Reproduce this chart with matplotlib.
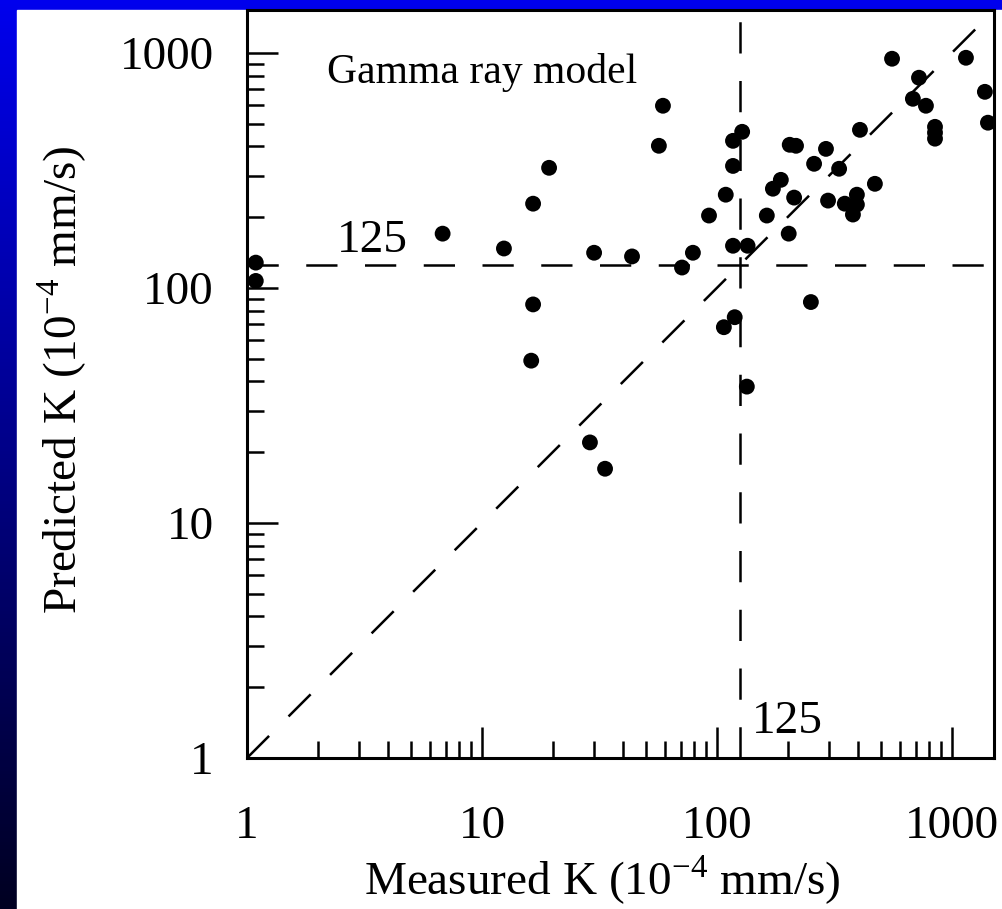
import numpy as np
import matplotlib
matplotlib.use("Agg")
import matplotlib.pyplot as plt
from matplotlib.patches import Rectangle
from matplotlib.ticker import FixedLocator, NullFormatter

plt.rcParams["font.family"] = ["Liberation Serif", "DejaVu Serif"]
plt.rcParams["mathtext.fontset"] = "custom"
plt.rcParams["mathtext.rm"] = "Liberation Serif"

# measured vs predicted K (10^-4 mm/s)
measured = [1.09, 1.09, 6.8, 12.4, 16.5, 16.5, 16.2, 19.3, 30.0, 43.5,
            28.8, 33.4, 58.9, 56.6, 71.0, 79.0, 92.5, 109, 117, 128,
            117, 117, 135, 119, 107, 134, 163, 173, 187, 202,
            204, 217, 213, 251, 259, 291, 297, 331, 350, 394,
            394, 379, 406, 470, 556, 1147, 724, 682, 775, 847,
            847, 847, 1381, 1423]
predicted = [128, 107, 170, 147, 228, 85, 49, 324, 141, 136,
             22, 17, 595, 402, 122, 141, 203, 249, 422, 461,
             330, 151, 151, 75, 68, 38, 203, 264, 288, 170,
             406, 402, 242, 87, 337, 390, 235, 321, 228, 249,
             226, 205, 470, 277, 943, 952, 783, 637, 595, 484,
             457, 431, 682, 504]

ref_level = 125
x_range = [1, 1510]
y_range = [1, 1520]
tick_vals = [1, 10, 100, 1000]
tick_text = ["1", "10", "100", "1000"]

W, H = 1003, 909
fig = plt.figure(figsize=(W / 100, H / 100), dpi=100)

# blue gradient frame on left and top
bg = fig.add_axes([0, 0, 1, 1], zorder=-10)
grad = np.linspace(0, 1, 256).reshape(-1, 1)
top_c = np.array([0.0, 0.0, 0.93])
bot_c = np.array([0.0, 0.0, 0.13])
img = top_c[None, None, :] * (1 - grad[:, :, None]) + bot_c[None, None, :] * grad[:, :, None]
bg.imshow(img, aspect="auto", extent=[0, 1, 0, 1], origin="upper")
bg.add_patch(Rectangle((17 / W, 0), 1, (H - 10) / H, color="white", transform=bg.transAxes))
bg.set_xlim(0, 1)
bg.set_ylim(0, 1)
bg.axis("off")

ax = fig.add_axes([247 / W, (H - 758) / H, (994 - 247) / W, (758 - 10) / H])
ax.set_xscale("log")
ax.set_yscale("log")
ax.set_xlim(*x_range)
ax.set_ylim(*y_range)

dash = (0, (12.5, 11))
ax.plot(x_range, x_range, color="black", lw=1.8, linestyle=dash, zorder=2)
ax.axhline(ref_level, color="black", lw=1.8, linestyle=dash, zorder=2)
ax.axvline(ref_level, color="black", lw=1.8, linestyle=dash, zorder=2)
ax.scatter(measured, predicted, s=130, color="black", edgecolors="none", zorder=3)

ax.text(2.19, 745, "Gamma ray model", fontsize=30, va="baseline", ha="left")
ax.text(2.42, 142, "125", fontsize=34, va="baseline", ha="left")
ax.text(141, 1.28, "125", fontsize=34, va="baseline", ha="left")

for side in ["left", "bottom", "right", "top"]:
    ax.spines[side].set_linewidth(2.2)

ax.xaxis.set_major_locator(FixedLocator(tick_vals))
ax.yaxis.set_major_locator(FixedLocator(tick_vals))
ax.set_xticklabels(tick_text)
ax.set_yticklabels(tick_text)
minor = [m * 10 ** d for d in range(0, 4) for m in range(2, 10)]
ax.xaxis.set_minor_locator(FixedLocator(minor))
ax.yaxis.set_minor_locator(FixedLocator(minor))
ax.xaxis.set_minor_formatter(NullFormatter())
ax.yaxis.set_minor_formatter(NullFormatter())
ax.tick_params(which="both", direction="in", top=False, right=False, width=1.8)
ax.tick_params(which="major", length=22)
ax.tick_params(which="minor", length=12)
ax.tick_params(axis="x", which="major", labelsize=34, pad=34)
ax.tick_params(axis="y", which="major", labelsize=34, pad=24)

fig.text(602 / W, 1 - 880 / H, r"Measured K (10$^{\mathregular{-4}}$ mm/s)",
         fontsize=34, ha="center", va="center")
fig.text(62 / W, 1 - 380 / H, r"Predicted K (10$^{\mathregular{-4}}$ mm/s)",
         fontsize=34, ha="center", va="center", rotation=90)

fig.savefig("out.png", dpi=100)
